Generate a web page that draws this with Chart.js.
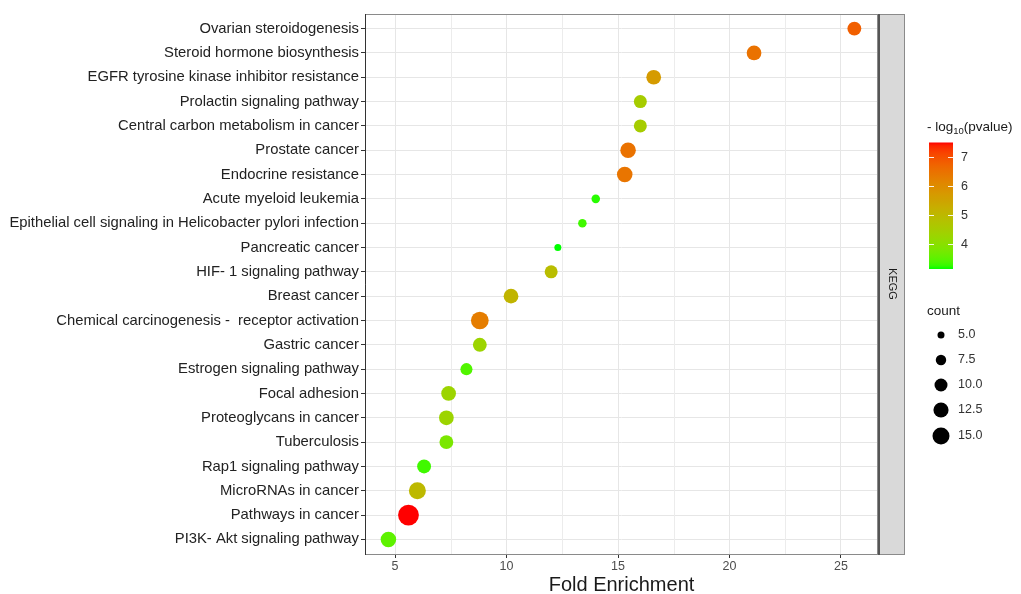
<!DOCTYPE html>
<html>
<head>
<meta charset="utf-8">
<script src="https://cdn.jsdelivr.net/npm/chart.js@4/dist/chart.umd.min.js"></script>
<style>
  body { margin: 0; background: #fff; }
  #wrap { width: 1021px; height: 594px; }
</style>
</head>
<body>
<div id="wrap"><canvas id="chart" width="1021" height="594"></canvas></div>
<script>
// data, top row first
const pathways = [
  'Ovarian steroidogenesis',
  'Steroid hormone biosynthesis',
  'EGFR tyrosine kinase inhibitor resistance',
  'Prolactin signaling pathway',
  'Central carbon metabolism in cancer',
  'Prostate cancer',
  'Endocrine resistance',
  'Acute myeloid leukemia',
  'Epithelial cell signaling in Helicobacter pylori infection',
  'Pancreatic cancer',
  'HIF- 1 signaling pathway',
  'Breast cancer',
  'Chemical carcinogenesis -  receptor activation',
  'Gastric cancer',
  'Estrogen signaling pathway',
  'Focal adhesion',
  'Proteoglycans in cancer',
  'Tuberculosis',
  'Rap1 signaling pathway',
  'MicroRNAs in cancer',
  'Pathways in cancer',
  'PI3K- Akt signaling pathway'
];
const foldEnrichment = [25.6, 21.1, 16.6, 16.0, 16.0, 15.45, 15.3, 14.0, 13.4, 12.3, 12.0, 10.2, 8.8, 8.8, 8.2, 7.4, 7.3, 7.3, 6.3, 6.0, 5.6, 4.7];
const logP = [6.8, 6.5, 5.7, 4.5, 4.5, 6.5, 6.45, 3.2, 3.3, 3.13, 4.9, 5.1, 6.3, 4.3, 3.4, 4.3, 4.3, 3.8, 3.3, 5.0, 7.52, 3.5];
const counts = [11, 12, 12, 10, 10, 13, 13, 6, 6, 5, 10, 12, 16, 11, 9, 12, 12, 11, 11, 15, 21, 13];
const xTicks = [5, 10, 15, 20, 25];
const xMinor = [7.5, 12.5, 17.5, 22.5];
const colorTicks = [4, 5, 6, 7];
const countBreaks = [5.0, 7.5, 10.0, 12.5, 15.0];

// --- colour scale: green -> red interpolated in Lab (like ggplot)
function toLin(c) { c /= 255; return c <= 0.04045 ? c / 12.92 : Math.pow((c + 0.055) / 1.055, 2.4); }
function fromLin(c) { c = c <= 0.0031308 ? 12.92 * c : 1.055 * Math.pow(c, 1 / 2.4) - 0.055; return Math.max(0, Math.min(255, Math.round(c * 255))); }
function rgb2lab(r, g, b) {
  r = toLin(r); g = toLin(g); b = toLin(b);
  let x = (r * 0.4124 + g * 0.3576 + b * 0.1805) / 0.95047;
  let y = (r * 0.2126 + g * 0.7152 + b * 0.0722);
  let z = (r * 0.0193 + g * 0.1192 + b * 0.9505) / 1.08883;
  const f = t => t > 0.008856 ? Math.cbrt(t) : 7.787 * t + 16 / 116;
  x = f(x); y = f(y); z = f(z);
  return [116 * y - 16, 500 * (x - y), 200 * (y - z)];
}
function lab2rgb(L, a, bb) {
  let y = (L + 16) / 116, x = a / 500 + y, z = y - bb / 200;
  const fi = t => t * t * t > 0.008856 ? t * t * t : (t - 16 / 116) / 7.787;
  x = fi(x) * 0.95047; y = fi(y); z = fi(z) * 1.08883;
  const r = x * 3.2406 + y * -1.5372 + z * -0.4986;
  const g = x * -0.9689 + y * 1.8758 + z * 0.0415;
  const b = x * 0.0557 + y * -0.2040 + z * 1.0570;
  return 'rgb(' + fromLin(r) + ',' + fromLin(g) + ',' + fromLin(b) + ')';
}
const labLow = rgb2lab(0, 255, 0);
const labHigh = rgb2lab(255, 0, 0);
const pMin = Math.min(...logP), pMax = Math.max(...logP);
function colorFor(v) {
  const t = Math.max(0, Math.min(1, (v - pMin) / (pMax - pMin)));
  return lab2rgb(labLow[0] + (labHigh[0] - labLow[0]) * t,
                 labLow[1] + (labHigh[1] - labLow[1]) * t,
                 labLow[2] + (labHigh[2] - labLow[2]) * t);
}
// point size: area linear in count
function radiusFor(c) { return Math.sqrt(49 + 24 * (c - 5)) / 2; }

const FONT = '"Liberation Sans", Arial, sans-serif';

// minor grid, panel border, strip and legends
const decorations = {
  id: 'decorations',
  beforeDatasetsDraw(chart) {
    const ctx = chart.ctx, a = chart.chartArea, xs = chart.scales.x;
    ctx.save();
    ctx.strokeStyle = '#ececec';
    ctx.lineWidth = 1;
    xMinor.forEach(v => {
      const px = Math.round(xs.getPixelForValue(v)) + 0.5;
      ctx.beginPath(); ctx.moveTo(px, a.top); ctx.lineTo(px, a.bottom); ctx.stroke();
    });
    ctx.restore();
  },
  afterDraw(chart) {
    const ctx = chart.ctx, a = chart.chartArea;
    ctx.save();
    // panel border
    ctx.strokeStyle = '#8a8a8a';
    ctx.lineWidth = 1;
    ctx.strokeRect(a.left + 0.5, a.top + 0.5, a.right - a.left - 1, a.bottom - a.top);
    ctx.strokeStyle = '#333';
    ctx.beginPath(); ctx.moveTo(a.left + 0.5, a.top); ctx.lineTo(a.left + 0.5, a.bottom + 1); ctx.stroke();
    // strip
    const sx = a.right, sw = 27;
    ctx.fillStyle = '#d9d9d9';
    ctx.fillRect(sx, a.top, sw, a.bottom - a.top);
    ctx.strokeStyle = '#8a8a8a';
    ctx.strokeRect(sx + 0.5, a.top + 0.5, sw - 1, a.bottom - a.top);
    ctx.strokeStyle = '#555';
    ctx.lineWidth = 2;
    ctx.beginPath(); ctx.moveTo(sx + 1, a.top); ctx.lineTo(sx + 1, a.bottom + 1); ctx.stroke();
    ctx.translate(sx + sw / 2 + 1, (a.top + a.bottom) / 2);
    ctx.rotate(Math.PI / 2);
    ctx.fillStyle = '#1a1a1a';
    ctx.font = '11px ' + FONT;
    ctx.textAlign = 'center';
    ctx.textBaseline = 'middle';
    ctx.fillText('KEGG', 0, 0);
    ctx.restore();

    // colour legend
    ctx.save();
    ctx.fillStyle = '#1a1a1a';
    ctx.font = '13.5px ' + FONT;
    ctx.textBaseline = 'alphabetic';
    ctx.textAlign = 'left';
    let tx = 927;
    ctx.fillText('- log', tx, 131);
    tx += ctx.measureText('- log').width;
    ctx.font = '9.5px ' + FONT;
    ctx.fillText('10', tx, 134);
    tx += ctx.measureText('10').width;
    ctx.font = '13.5px ' + FONT;
    ctx.fillText('(pvalue)', tx, 131);

    const bx = 929, bw = 24, bTop = 142.5, bBot = 269;
    const pxFor = v => bBot - (v - pMin) / (pMax - pMin) * (bBot - bTop);
    const grad = ctx.createLinearGradient(0, bBot, 0, bTop);
    for (let i = 0; i <= 40; i++) grad.addColorStop(i / 40, colorFor(pMin + (pMax - pMin) * i / 40));
    ctx.fillStyle = grad;
    ctx.fillRect(bx, bTop, bw, bBot - bTop);
    ctx.strokeStyle = 'rgba(255,255,255,0.9)';
    ctx.lineWidth = 1;
    ctx.font = '12.5px ' + FONT;
    ctx.fillStyle = '#333';
    ctx.textBaseline = 'middle';
    colorTicks.forEach(v => {
      const py = Math.round(pxFor(v)) + 0.5;
      ctx.beginPath();
      ctx.moveTo(bx, py); ctx.lineTo(bx + 5, py);
      ctx.moveTo(bx + bw - 5, py); ctx.lineTo(bx + bw, py);
      ctx.stroke();
      ctx.fillText(String(v), 961, py);
    });

    // size legend
    ctx.fillStyle = '#1a1a1a';
    ctx.font = '13.5px ' + FONT;
    ctx.textBaseline = 'alphabetic';
    ctx.fillText('count', 927, 315);
    const ys = [335, 360, 385, 410, 436];
    ctx.font = '12.5px ' + FONT;
    ctx.textBaseline = 'middle';
    countBreaks.forEach((c, i) => {
      ctx.fillStyle = '#000';
      ctx.beginPath();
      ctx.arc(941, ys[i], radiusFor(c), 0, Math.PI * 2);
      ctx.fill();
      ctx.fillStyle = '#333';
      ctx.fillText(c.toFixed(1), 958, ys[i]);
    });
    ctx.restore();
  }
};

const ctx = document.getElementById('chart');
new Chart(ctx, {
  type: 'scatter',
  data: {
    datasets: [{
      data: pathways.map((p, i) => ({ x: foldEnrichment[i], y: i })),
      pointRadius: c => radiusFor(counts[c.dataIndex]),
      pointHoverRadius: c => radiusFor(counts[c.dataIndex]),
      pointBackgroundColor: c => colorFor(logP[c.dataIndex]),
      pointBorderWidth: 0,
      borderWidth: 0
    }]
  },
  options: {
    responsive: false,
    animation: false,
    events: [],
    layout: { padding: { top: 14, right: 143, left: 0, bottom: 0 } },
    plugins: { legend: { display: false }, tooltip: { enabled: false } },
    scales: {
      x: {
        type: 'linear',
        min: 3.65,
        max: 26.66,
        afterBuildTicks: s => { s.ticks = xTicks.map(v => ({ value: v })); },
        afterFit: s => { s.height = 40; },
        grid: { color: '#e6e6e6', tickColor: '#333', tickLength: 4, lineWidth: 1 },
        border: { display: false },
        ticks: { color: '#4d4d4d', font: { family: FONT, size: 12.5 }, padding: 1, maxRotation: 0 },
        title: { display: true, text: 'Fold Enrichment', color: '#1a1a1a', font: { family: FONT, size: 20, lineHeight: 1 }, padding: { top: 0, bottom: -1 } }
      },
      y: {
        type: 'linear',
        reverse: true,
        min: -0.6,
        max: 21.6,
        afterBuildTicks: s => { s.ticks = pathways.map((p, i) => ({ value: i })); },
        afterFit: s => { s.width = 365; },
        grid: { color: '#e6e6e6', tickColor: '#333', tickLength: 4, lineWidth: 1 },
        border: { display: false },
        ticks: {
          autoSkip: false,
          color: '#222',
          font: { family: FONT, size: 14.8 },
          padding: 2,
          callback: v => pathways[v]
        }
      }
    }
  },
  plugins: [decorations]
});
</script>
</body>
</html>
